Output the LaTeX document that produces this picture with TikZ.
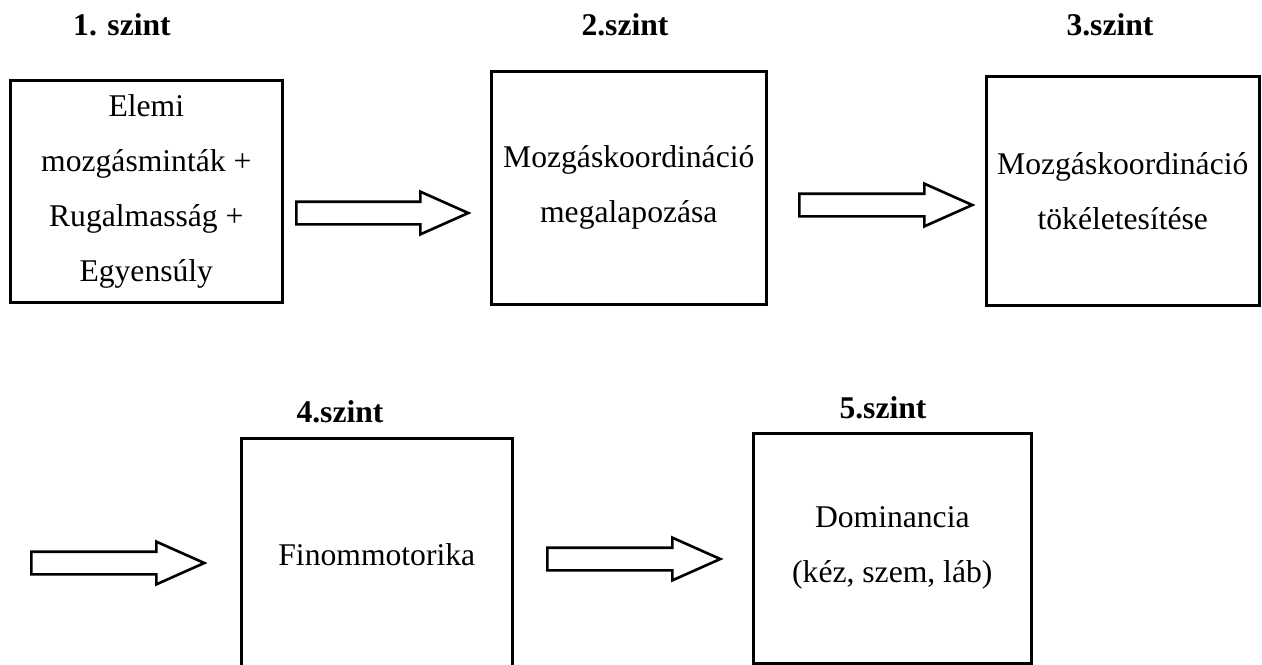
\documentclass[tikz,border=0pt]{standalone}
\usepackage{fontspec}
\setmainfont{Liberation Serif}
\usepackage{tikz}
\usetikzlibrary{shapes.arrows}
\usetikzlibrary{positioning}

\tikzset{
  levelbox/.style={draw,rectangle,line width=1.5pt,anchor=north west,align=center,inner sep=0pt,
    font=\fontsize{18}{31.3}\selectfont},
  levellab/.style={font=\fontsize{18}{22}\selectfont\bfseries,inner sep=0pt},
  bigarrow/.style={draw,single arrow,line width=1.5pt,inner xsep=0pt,inner ysep=0.2cm,
    single arrow head extend=0.2cm,single arrow tip angle=48,anchor=tail}
}

\begin{document}
\begin{tikzpicture}[x=0.02cm,y=-0.02cm]
  \useasboundingbox (0,0) rectangle (1262,664);
  \clip (0,0) rectangle (1262,664);

  \node [levelbox,minimum width=5.44cm,minimum height=4.44cm] (L1) at (9,79)
    {Elemi\\ mozgásminták +\\ Rugalmasság +\\ Egyensúly};
  \node [levelbox,minimum width=5.5cm,minimum height=4.66cm] (L2) at (490,70)
    {Mozgáskoordináció\\ megalapozása};
  \node [levelbox,minimum width=5.46cm,minimum height=4.58cm] (L3) at (985,75)
    {Mozgáskoordináció\\ tökéletesítése};
  \node [levelbox,minimum width=5.42cm,minimum height=4.64cm] (L4) at (240,437)
    {Finommotorika};
  \node [levelbox,minimum width=5.56cm,minimum height=4.6cm] (L5) at (752,432)
    {Dominancia\\ (kéz, szem, láb)};

  \node [levellab] (L1lab) at (122,25) {1. szint};
  \node [levellab] (L2lab) at (625,25) {2.szint};
  \node [levellab] (L3lab) at (1110,25) {3.szint};
  \node [levellab] (L4lab) at (340,412) {4.szint};
  \node [levellab] (L5lab) at (883,408) {5.szint};

  \node [bigarrow,minimum height=3.44cm] (A12) at (295,213) {};
  \node [bigarrow,minimum height=3.46cm] (A23) at (798,205) {};
  \node [bigarrow,minimum height=3.46cm] (A34) at (30,563) {};
  \node [bigarrow,minimum height=3.46cm] (A45) at (546,559) {};

\end{tikzpicture}
\end{document}
